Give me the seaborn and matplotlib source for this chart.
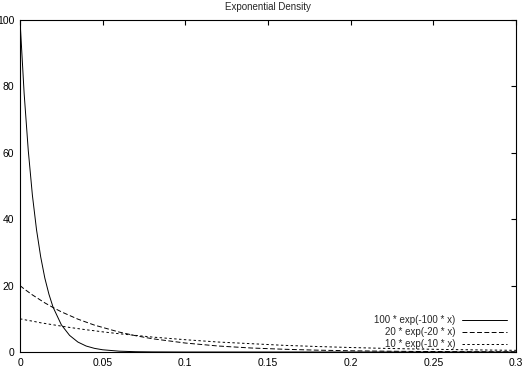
import matplotlib
matplotlib.use("Agg")
import matplotlib.pyplot as plt
import pandas as pd
import seaborn as sns

# values
x_vals = [0, 0.0025, 0.005, 0.0075, 0.01, 0.0125, 0.015, 0.0175, 0.02, 0.025, 0.03,
          0.035, 0.04, 0.045, 0.05, 0.06, 0.07, 0.08, 0.1, 0.12, 0.14, 0.16, 0.18,
          0.2, 0.22, 0.24, 0.26, 0.28, 0.3]
y_100 = [100, 77.9, 60.7, 47.2, 36.8, 28.7, 22.3, 17.4, 13.5, 8.2, 5.0,
         3.0, 1.8, 1.1, 0.67, 0.25, 0.09, 0.03, 0.0, 0.0, 0.0, 0.0, 0.0,
         0.0, 0.0, 0.0, 0.0, 0.0, 0.0]
y_20 = [20, 19.0, 18.1, 17.2, 16.4, 15.6, 14.8, 14.1, 13.4, 12.1, 11.0,
        9.9, 9.0, 8.1, 7.4, 6.0, 4.9, 4.0, 2.7, 1.8, 1.2, 0.82, 0.55,
        0.37, 0.25, 0.16, 0.11, 0.07, 0.05]
y_10 = [10, 9.75, 9.5, 9.3, 9.05, 8.8, 8.6, 8.4, 8.2, 7.8, 7.4,
        7.05, 6.7, 6.4, 6.07, 5.5, 5.0, 4.5, 3.7, 3.0, 2.5, 2.0, 1.65,
        1.35, 1.1, 0.9, 0.74, 0.61, 0.5]
labels = ["100 * exp(-100 * x)", "20 * exp(-20 * x)", "10 * exp(-10 * x)"]
x_ticks = [0, 0.05, 0.1, 0.15, 0.2, 0.25, 0.3]
x_tick_labels = ["0", "0.05", "0.1", "0.15", "0.2", "0.25", "0.3"]
y_ticks = [0, 20, 40, 60, 80, 100]

sns.set_style("white")
plt.rcParams['font.family'] = ['Liberation Sans', 'DejaVu Sans']

df = pd.DataFrame({"x": x_vals * 3,
                   "y": y_100 + y_20 + y_10,
                   "curve": [labels[0]] * len(x_vals) + [labels[1]] * len(x_vals) + [labels[2]] * len(x_vals)})

fig = plt.figure(figsize=(5.24, 3.66), dpi=100)
ax = fig.add_axes([20 / 524, 1 - 352 / 366, 496 / 524, 332 / 366])

sns.lineplot(data=df, x="x", y="y", style="curve", style_order=labels,
             dashes=[(None, None), (5, 2.5), (2.5, 2.5)], color="black",
             linewidth=0.7, ax=ax)

ax.set_xlim(0, 0.3)
ax.set_ylim(0, 100)
ax.set_xticks(x_ticks)
ax.set_xticklabels(x_tick_labels)
ax.set_yticks(y_ticks)
ax.set_xlabel("")
ax.set_ylabel("")
ax.tick_params(direction="in", length=3.5, width=0.8, top=True, right=True,
               labelsize=7.5, pad=4, colors="black")
for s in ax.spines.values():
    s.set_color("black")
    s.set_linewidth(0.8)
ax.set_title("Exponential Density", fontsize=7, pad=7)

handles, lbls = ax.get_legend_handles_labels()
ax.legend(handles, lbls, loc="lower right", bbox_to_anchor=(0.995, -0.012),
          frameon=False, markerfirst=False, fontsize=7, handlelength=4.6,
          handletextpad=0.7, labelspacing=0.2, borderpad=0.2)

fig.savefig("out.png", dpi=100)
